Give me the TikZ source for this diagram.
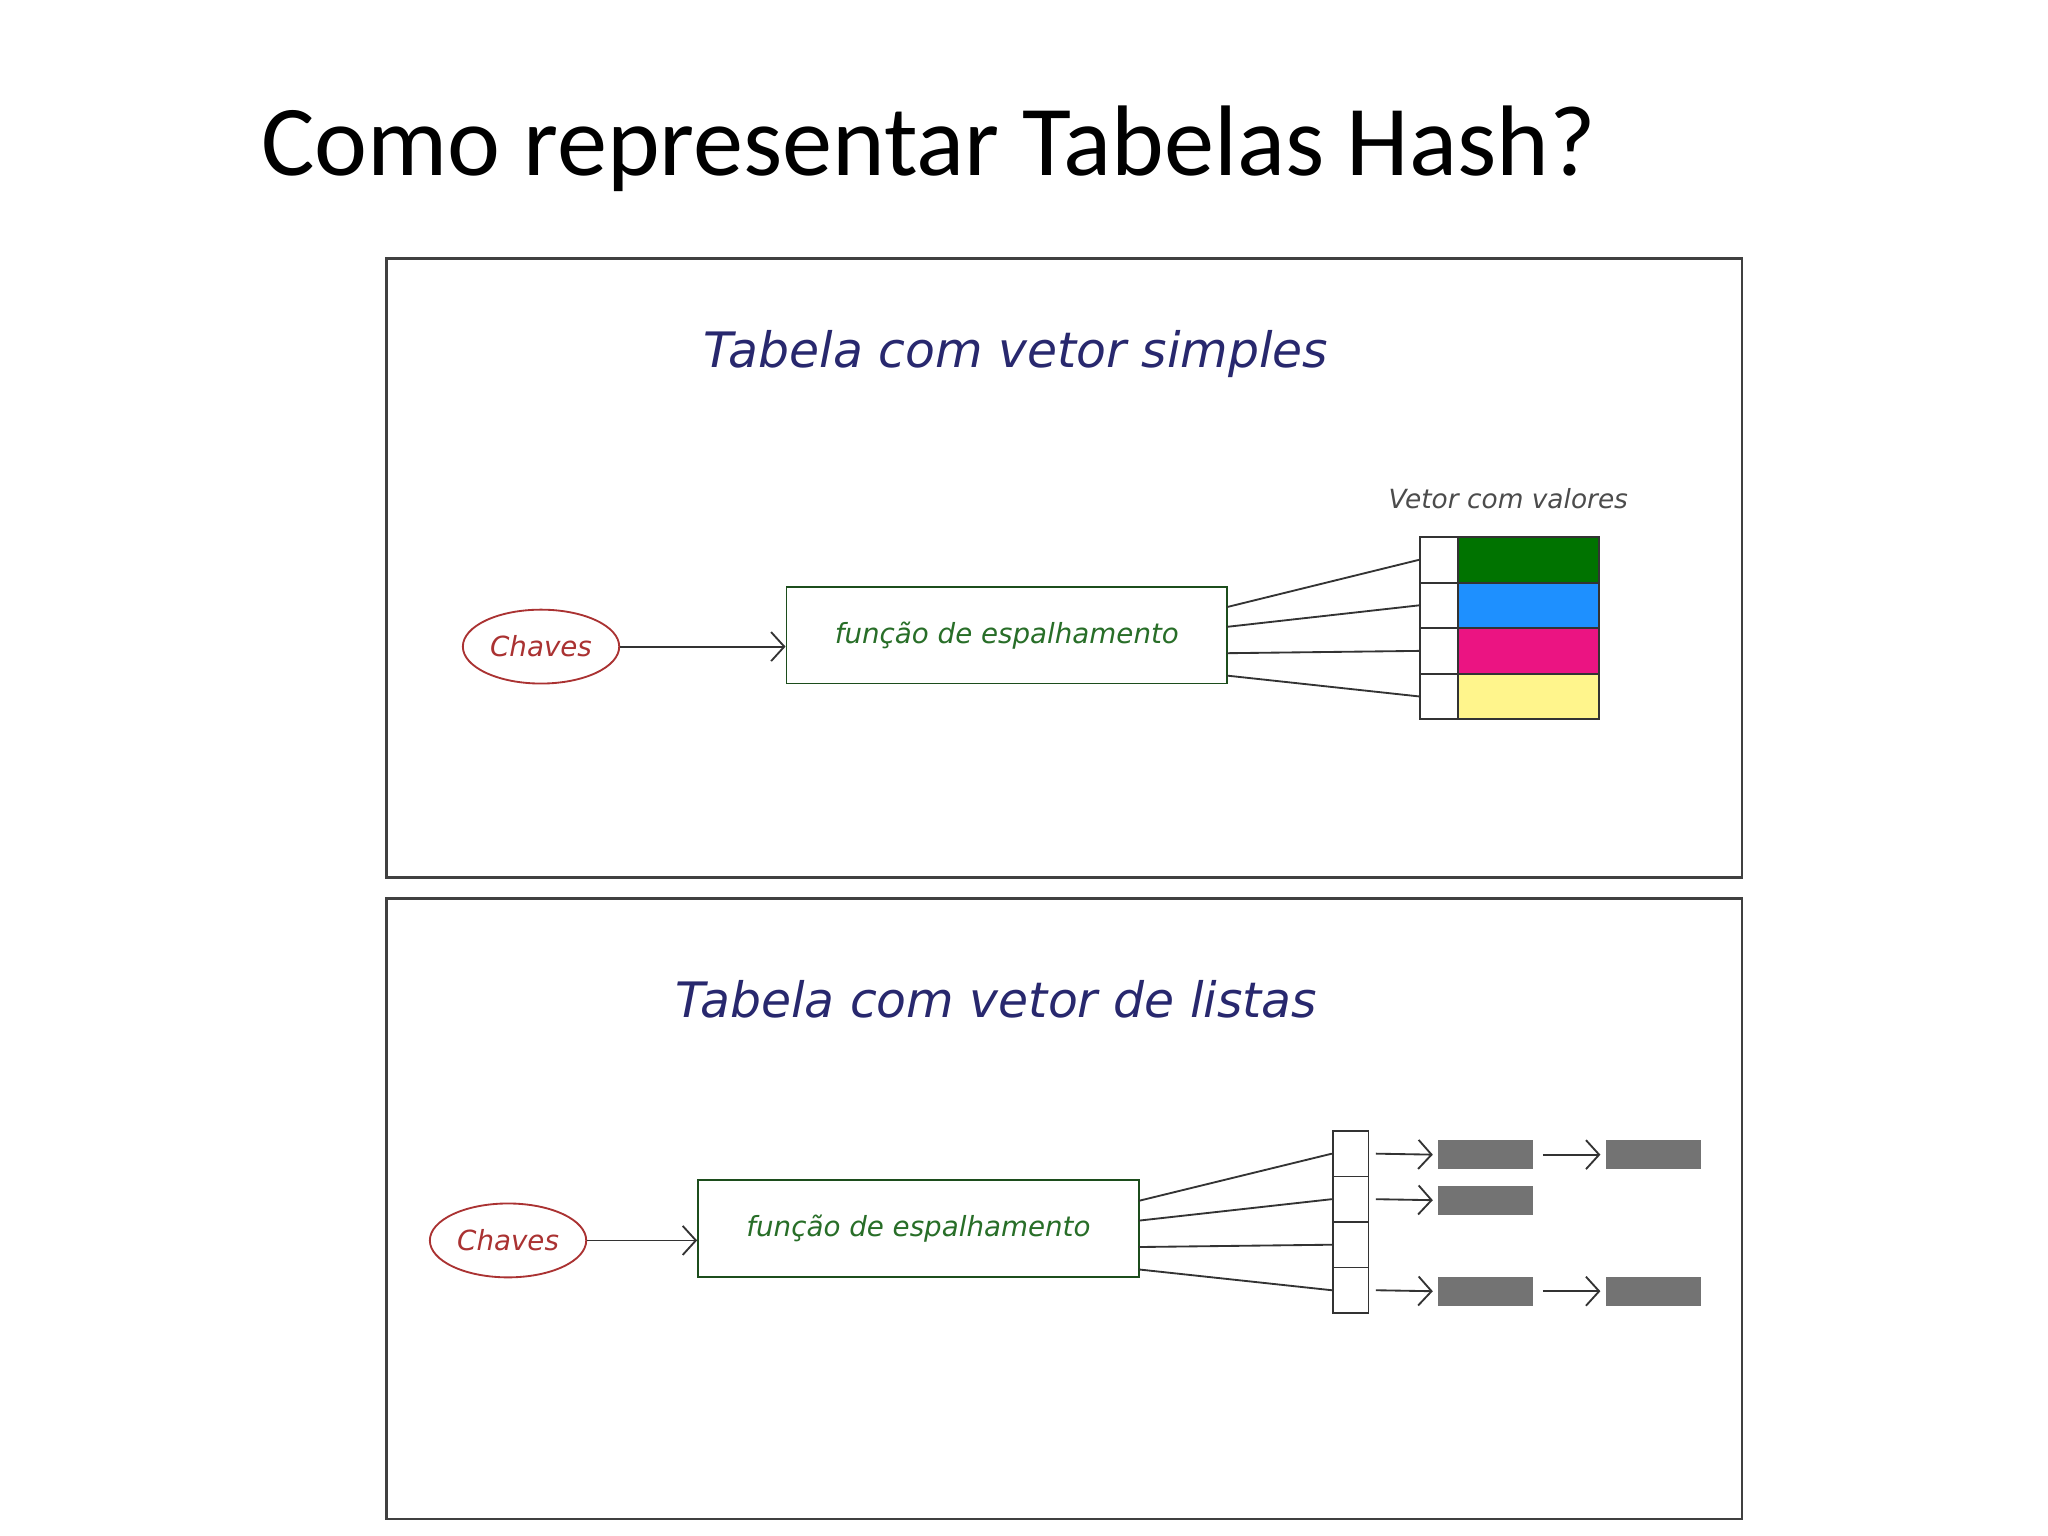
\documentclass[tikz,border=0pt]{standalone}
\usepackage{fontspec}
\setmainfont{Carlito}
\newfontfamily\verd{DejaVu Sans}
\usetikzlibrary{shapes.geometric,arrows.meta}
\definecolor{tblue}{RGB}{40,40,110}
\definecolor{tgreen}{RGB}{40,110,40}
\definecolor{tred}{RGB}{170,50,50}
\tikzset{
 panel/.style={draw=black!75,line width=2pt},
 ptitle/.style={font=\verd\itshape\fontsize{37}{40}\selectfont,text=tblue},
 chav/.style={ellipse,draw=tred,line width=1.4pt,minimum width=116pt,minimum height=56pt,font=\verd\itshape\fontsize{21}{24}\selectfont,text=tred},
 func/.style={draw=tgreen!70!black,line width=1.4pt,minimum width=334pt,minimum height=73pt,font=\verd\itshape\fontsize{21}{24}\selectfont,text=tgreen},
 cell/.style={draw=black!80,line width=1.4pt,minimum width=29pt,minimum height=34.5pt,inner sep=0},
 val/.style={draw=black!80,line width=1.4pt,minimum width=107pt,minimum height=34.5pt,inner sep=0},
 item/.style={fill=black!55,minimum width=72pt,minimum height=22pt,inner sep=0},
 conn/.style={black!80,line width=1.4pt},
 arr/.style={black!80,line width=1.4pt,-{Straight Barb[length=10pt,width=22pt]}}
}
\begin{document}
\begin{tikzpicture}[x=1pt,y=-1pt]
\useasboundingbox[fill=white] (0,0) rectangle (1552,1164);
\node[anchor=base west,font=\fontsize{76}{80}\selectfont,inner sep=0] (title) at (198,133) {Como representar Tabelas Hash?};
% panel 1
\draw[panel] (293,196) rectangle (1320,665);
\node[ptitle] (t1) at (770,268) {Tabela com vetor simples};
\node[font=\verd\itshape\fontsize{20}{23}\selectfont,text=black!70] (vl) at (1143,378) {Vetor com valores};
\node[chav] (c1) at (410,490) {Chaves};
\node[func] (f1) at (763,481.5) {função de espalhamento};
\draw[arr] (c1.east) -- (c1.east -| f1.west);
\foreach \i/\col in {0/{green!45!black},1/{rgb,255:red,30;green,144;blue,255},2/{rgb,255:red,235;green,20;blue,130},3/{rgb,255:red,255;green,245;blue,140}}{
 \node[cell] (a\i) at (1090.5,{424.25+34.5*\i}) {};
 \node[val,fill=\col] (v\i) at (1158.5,{424.25+34.5*\i}) {};
}
\foreach \i/\y in {0/460,1/475,2/495,3/512}{
 \coordinate (s\i) at (930,\y);
 \draw[conn] (s\i) -- (a\i.west);
}
% panel 2
\draw[panel] (293,681) rectangle (1320,1151);
\node[ptitle] (t2) at (755,757) {Tabela com vetor de listas};
\node[chav] (c2) at (385,940) {Chaves};
\node[func] (f2) at (696,931) {função de espalhamento};
\draw[arr] (c2.east) -- (c2.east -| f2.west);
\foreach \i in {0,1,2,3}{
 \node[cell,minimum width=27pt] (b\i) at (1023.5,{874.25+34.5*\i}) {};
}
\foreach \i/\y in {0/910,1/925,2/945,3/962}{
 \coordinate (r\i) at (863,\y);
 \draw[conn] (r\i) -- (b\i.west);
}
\node[item] (p0) at (1126,875) {};
\node[item] (q0) at (1253,875) {};
\node[item] (p1) at (1126,909.5) {};
\node[item] (p3) at (1126,978.5) {};
\node[item] (q3) at (1253,978.5) {};
\draw[arr] ([xshift=5pt]b0.east) -- ([xshift=-4pt]p0.west);
\draw[arr] ([xshift=5pt]b1.east) -- ([xshift=-4pt]p1.west);
\draw[arr] ([xshift=5pt]b3.east) -- ([xshift=-4pt]p3.west);
\draw[arr] ([xshift=7pt]p0.east) -- ([xshift=-4pt]q0.west);
\draw[arr] ([xshift=7pt]p3.east) -- ([xshift=-4pt]q3.west);
\end{tikzpicture}
\end{document}
